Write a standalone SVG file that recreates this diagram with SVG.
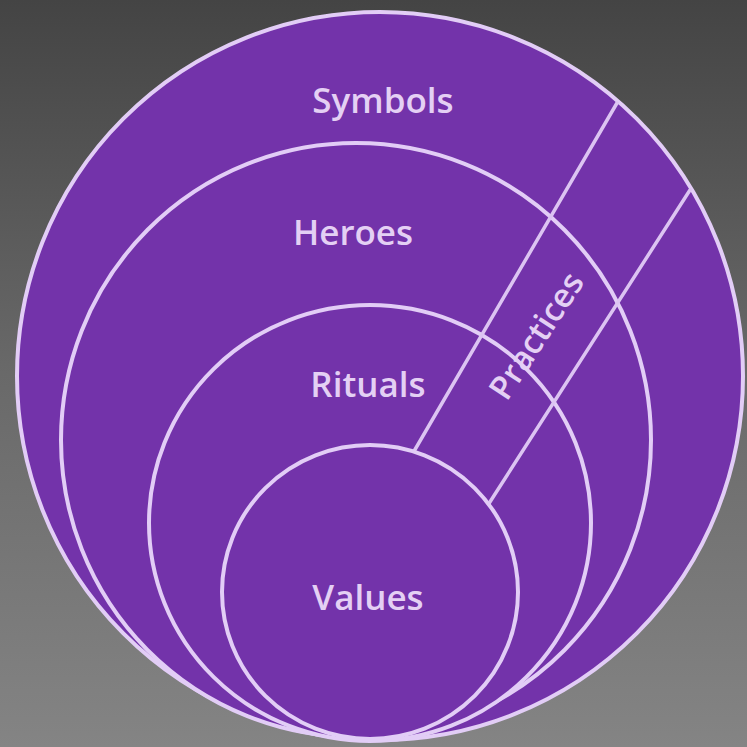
<svg xmlns="http://www.w3.org/2000/svg" width="747" height="747" viewBox="0 0 747 747">
  <defs>
    <linearGradient id="bg" x1="0" y1="0" x2="0" y2="1">
      <stop offset="0" stop-color="#444444"/>
      <stop offset="0.5" stop-color="#696969"/>
      <stop offset="1" stop-color="#848484"/>
    </linearGradient>
  </defs>
  <style>
    .ring { fill: #7333aa; stroke: #e2cdf6; stroke-width: 4; }
    .band { stroke: #dcc4f2; stroke-width: 3.5; fill: none; stroke-linecap: round; }
    .label { font-family: "Open Sans", "Liberation Sans", sans-serif; font-weight: 600; fill: #e4d0f4; text-anchor: middle; }
  </style>

  <!-- background -->
  <rect width="747" height="747" fill="url(#bg)"/>

  <!-- onion layers, outermost first -->
  <g id="symbols">
    <ellipse class="ring" cx="380" cy="376" rx="363" ry="364"/>
    <text class="label" x="383" y="113" font-size="35">Symbols</text>
  </g>

  <g id="heroes">
    <ellipse class="ring" cx="356" cy="440" rx="295" ry="297"/>
    <text class="label" x="353" y="245" font-size="35">Heroes</text>
  </g>

  <g id="rituals">
    <ellipse class="ring" cx="370" cy="523" rx="221" ry="218"/>
    <text class="label" x="368" y="397" font-size="35">Rituals</text>
  </g>

  <!-- practices band cutting across the outer three layers -->
  <g id="practices">
    <line class="band" x1="413" y1="453" x2="617" y2="103"/>
    <line class="band" x1="488" y1="505" x2="690" y2="190"/>
    <text class="label" x="0" y="0" font-size="33" transform="translate(546 342) rotate(-57)">Practices</text>
  </g>

  <g id="values">
    <ellipse class="ring" cx="370" cy="592" rx="148" ry="147"/>
    <text class="label" x="368" y="610" font-size="35">Values</text>
  </g>
</svg>
